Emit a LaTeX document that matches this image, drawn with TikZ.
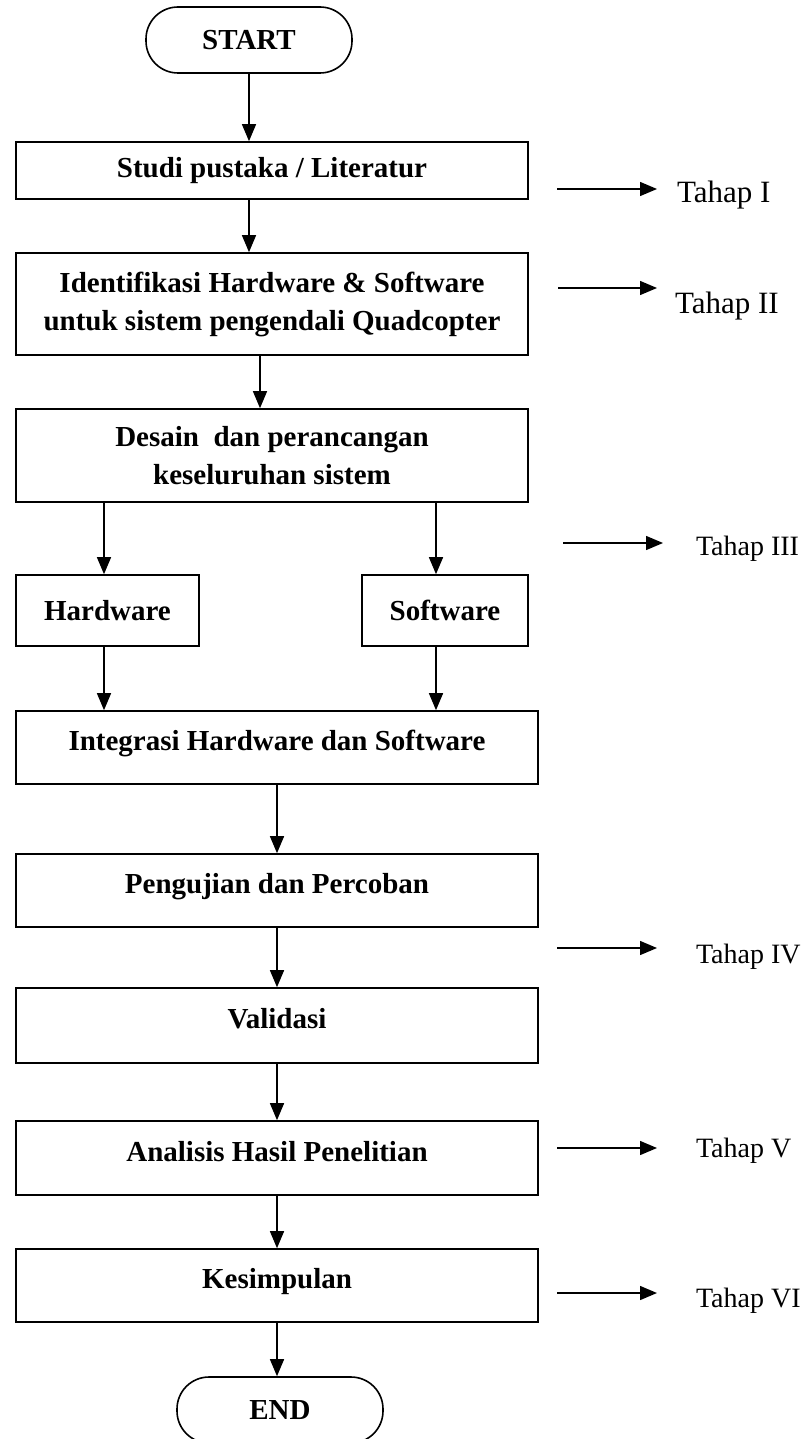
\documentclass[tikz,border=0pt]{standalone}
\usepackage{fontspec}
\setmainfont{Liberation Serif}
\usepackage{tikz}
\usetikzlibrary{arrows.meta}
\tikzset{box/.style={rectangle,draw,line width=1.6pt,align=center,font=\fontsize{29}{38}\selectfont\bfseries},
         term/.style={box,rounded corners=32pt,minimum width=206pt,minimum height=66pt},
         wide/.style={box,minimum width=512pt},
         low/.style={box,minimum width=522pt,minimum height=73pt,text height=20pt,text depth=14pt},
         tahap/.style={anchor=base west,font=\fontsize{28}{34}\selectfont}}

\begin{document}
\begin{tikzpicture}[>={Triangle[length=17pt,width=14pt]},x=1pt,y=-1pt,line width=1.4pt]
    \useasboundingbox (0,0) rectangle (804,1439);

    \node[term] (start) at (249,40) {START};
    \node[wide,minimum height=57pt] (studi) at (272,170.5) {Studi pustaka / Literatur};
    \node[wide,minimum height=102pt] (ident) at (272,304) {Identifikasi Hardware \& Software\\untuk sistem pengendali Quadcopter};
    \node[wide,minimum height=93pt] (desain) at (272,455.5) {Desain\ \ dan perancangan\\keseluruhan sistem};
    \node[box,minimum width=183pt,minimum height=71pt] (hw) at (107.5,610.5) {Hardware};
    \node[box,minimum width=166pt,minimum height=71pt] (sw) at (445,610.5) {Software};
    \node[low] (integ) at (277,747.5) {Integrasi Hardware dan Software};
    \node[low] (uji) at (277,890.5) {Pengujian dan Percoban};
    \node[low,minimum height=75pt] (valid) at (277,1025.5) {Validasi};
    \node[low,minimum height=74pt] (anal) at (277,1158) {Analisis Hasil Penelitian};
    \node[low] (simp) at (277,1285.5) {Kesimpulan};
    \node[term] (fin) at (280,1410) {END};

    \node[tahap,font=\fontsize{31}{36}\selectfont] (th1) at (673,203) {Tahap I};
    \node[tahap,font=\fontsize{31}{36}\selectfont] (th2) at (671,313) {Tahap II};
    \node[tahap] (th3) at (692,555) {Tahap III};
    \node[tahap] (th4) at (692,963) {Tahap IV};
    \node[tahap] (th5) at (692,1157) {Tahap V};
    \node[tahap] (th6) at (692,1307) {Tahap VI};

    \coordinate (a1) at (557,189);  \coordinate (b1) at (657,189);
    \coordinate (a2) at (558,288);  \coordinate (b2) at (657,288);
    \coordinate (a3) at (563,543);  \coordinate (b3) at (663,543);
    \coordinate (a4) at (557,948);  \coordinate (b4) at (657,948);
    \coordinate (a5) at (557,1148); \coordinate (b5) at (657,1148);
    \coordinate (a6) at (557,1293); \coordinate (b6) at (657,1293);

    \draw [->] (start.south) -- (start.south |- studi.north);
    \draw [->] (studi.south -| start) -- (ident.north -| start);
    \draw [->] ([xshift=-12pt]ident.south) -- ([xshift=-12pt]desain.north);
    \draw [->] ([xshift=-3.5pt]hw.north |- desain.south) -- ([xshift=-3.5pt]hw.north);
    \draw [->] ([xshift=-9pt]sw.north |- desain.south) -- ([xshift=-9pt]sw.north);
    \draw [->] ([xshift=-3.5pt]hw.south) -- ([xshift=-3.5pt]hw.south |- integ.north);
    \draw [->] ([xshift=-9pt]sw.south) -- ([xshift=-9pt]sw.south |- integ.north);
    \draw [->] (integ.south) -- (uji.north);
    \draw [->] (uji.south) -- (valid.north);
    \draw [->] (valid.south) -- (anal.north);
    \draw [->] (anal.south) -- (simp.north);
    \draw [->] (simp.south) -- (simp.south |- fin.north);

    \draw [->] (a1) -- (b1);
    \draw [->] (a2) -- (b2);
    \draw [->] (a3) -- (b3);
    \draw [->] (a4) -- (b4);
    \draw [->] (a5) -- (b5);
    \draw [->] (a6) -- (b6);
\end{tikzpicture}
\end{document}
